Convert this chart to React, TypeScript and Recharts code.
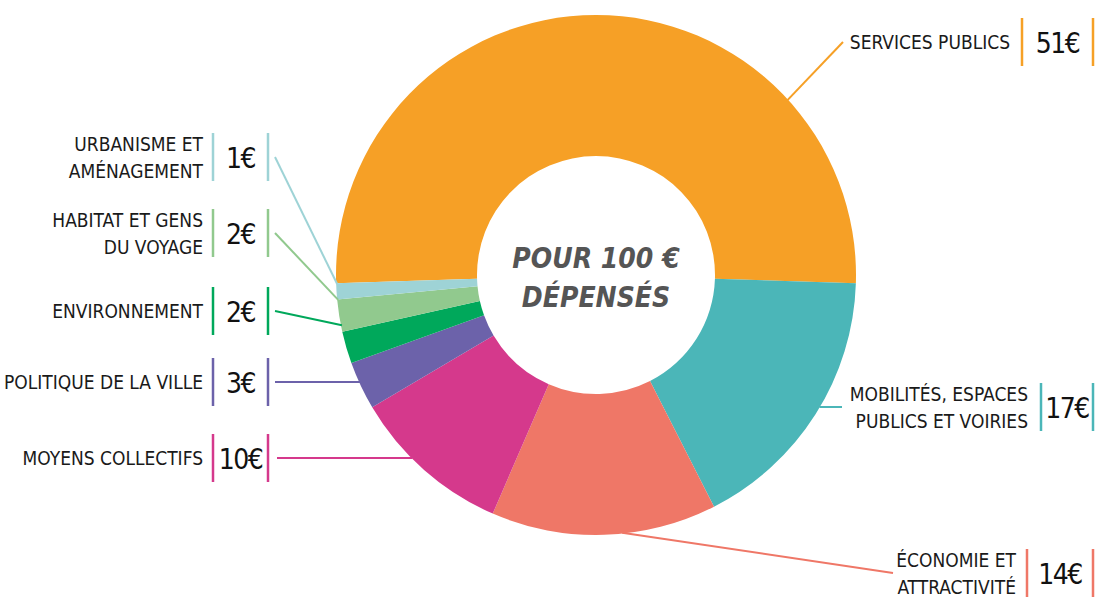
import React from 'react'
import { PieChart, Pie, Cell } from 'recharts'

// dépenses pour 100 €
const categories = [
  'SERVICES PUBLICS',
  'MOBILITÉS, ESPACES|PUBLICS ET VOIRIES',
  'ÉCONOMIE ET|ATTRACTIVITÉ',
  'MOYENS COLLECTIFS',
  'POLITIQUE DE LA VILLE',
  'ENVIRONNEMENT',
  'HABITAT ET GENS|DU VOYAGE',
  'URBANISME ET|AMÉNAGEMENT',
]
const amounts = [51, 17, 14, 10, 3, 2, 2, 1]
const colors = ['#F6A026', '#4BB6B8', '#EF7767', '#D5398C', '#6C62AA', '#00A85B', '#91C98E', '#9ED3D6']
const centerLines = ['POUR 100 €', 'DÉPENSÉS']

// placement des étiquettes (ancre du trait, colonnes)
const labelLayout = [
  { ax: 843, ay: 42, textX: 1010, bar1: 1022, bar2: 1093, angleShift: -47.6 },
  { ax: 842, ay: 407, textX: 1028, bar1: 1041, bar2: 1093, angleShift: 2, flat: true },
  { ax: 893, ay: 573, textX: 1016, bar1: 1027, bar2: 1093, angleShift: 4 },
  { ax: 277, ay: 458, textX: 203, bar1: 213, bar2: 268, angleShift: -3.8, flat: true },
  { ax: 275, ay: 382, textX: 203, bar1: 213, bar2: 268, angleShift: -0.6, flat: true },
  { ax: 275, ay: 311, textX: 203, bar1: 213, bar2: 268, angleShift: -5 },
  { ax: 275, ay: 233, textX: 203, bar1: 213, bar2: 268, angleShift: -3.5 },
  { ax: 275, ay: 157, textX: 203, bar1: 213, bar2: 268, angleShift: -1.6 },
]

const data = categories.map((name, i) => ({ name, value: amounts[i] }))

const RADIAN = Math.PI / 180
const FONT = '"DejaVu Sans Condensed", "Liberation Sans Narrow", "Roboto", sans-serif'

const renderLabel = (props: any) => {
  const { cx, cy, midAngle, outerRadius, index, value } = props
  const lay = labelLayout[index]
  const color = colors[index]
  const ang = (midAngle + lay.angleShift) * RADIAN
  const ex = cx + (outerRadius - 1) * Math.cos(-ang)
  let ey = cy + (outerRadius - 1) * Math.sin(-ang)
  if (lay.flat) ey = lay.ay
  const lines = data[index].name.split('|')
  const lh = 27
  const y0 = lay.ay - ((lines.length - 1) * lh) / 2
  return (
    <g key={'lbl' + index}>
      {index === 0 &&
        centerLines.map((t, k) => (
          <text
            key={'c' + k}
            x={cx}
            y={cy - 17 + k * 39}
            textAnchor="middle"
            dominantBaseline="central"
            fontFamily={FONT}
            fontSize={28}
            fontWeight="bold"
            fontStyle="italic"
            fill="#555"
          >
            {t}
          </text>
        ))}
      <line x1={ex} y1={ey} x2={lay.ax} y2={lay.ay} stroke={color} strokeWidth={2} />
      {lines.map((l: string, k: number) => (
        <text
          key={k}
          x={lay.textX}
          y={y0 + k * lh}
          textAnchor="end"
          dominantBaseline="central"
          fontFamily={FONT}
          fontSize={19}
          fill="#1a1a1a"
        >
          {l}
        </text>
      ))}
      <line x1={lay.bar1} y1={lay.ay - 24} x2={lay.bar1} y2={lay.ay + 24} stroke={color} strokeWidth={2.5} />
      <line x1={lay.bar2} y1={lay.ay - 24} x2={lay.bar2} y2={lay.ay + 24} stroke={color} strokeWidth={2.5} />
      <text
        x={(lay.bar1 + lay.bar2) / 2}
        y={lay.ay + 1}
        textAnchor="middle"
        dominantBaseline="central"
        fontFamily={FONT}
        fontSize={28}
        letterSpacing={-1.5}
        fontWeight={500}
        fill="#111"
      >
        {value}€
      </text>
    </g>
  )
}

export default function App() {
  return (
    <div style={{ position: 'absolute', left: 0, top: 0, width: 1096, height: 599, background: '#fff' }}>
      <PieChart width={1096} height={599} margin={{ top: 0, right: 0, bottom: 0, left: 0 }}>
        <Pie
          data={data}
          dataKey="value"
          cx={596}
          cy={275}
          innerRadius={119}
          outerRadius={260}
          startAngle={181.8}
          endAngle={-178.2}
          stroke="none"
          label={renderLabel}
          labelLine={false}
          isAnimationActive={false}
        >
          {data.map((d, i) => (
            <Cell key={d.name} fill={colors[i]} />
          ))}
        </Pie>
      </PieChart>
    </div>
  )
}
